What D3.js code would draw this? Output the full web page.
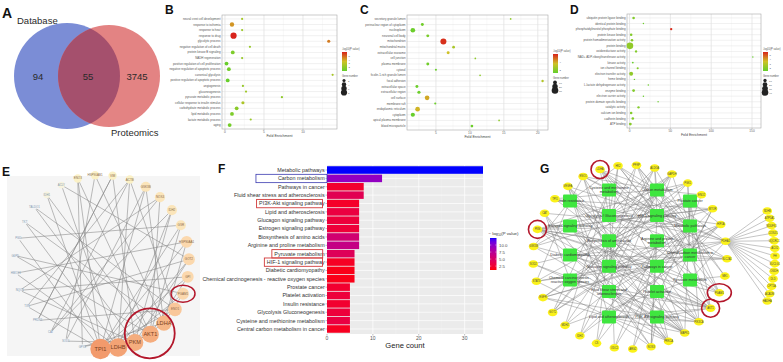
<!DOCTYPE html>
<html><head><meta charset="utf-8">
<script src="https://cdn.jsdelivr.net/npm/d3@7/dist/d3.min.js"></script>
<style>
html,body{margin:0;padding:0;background:#fff;}
svg{display:block;font-family:"Liberation Sans",Arial,Helvetica,sans-serif;}
</style></head>
<body>
<svg id="chart" width="783" height="362"></svg>
<script>
// ================= DATA =================
// Panel A (Venn)
const vennNames = ["Database", "Proteomics"];
const vennCounts = [94, 55, 3745]; // database only, shared, proteomics only

// Panel B (GO BP)
const bTerms = ["neural crest cell development","response to ischemia","response to heat","response to drug","glycolytic process","negative regulation of cell death","protein kinase B signaling","NADH regeneration","positive regulation of cell proliferation","negative regulation of apoptotic process","canonical glycolysis","positive regulation of apoptotic process","angiogenesis","gluconeogenesis","pyruvate metabolic process","cellular response to insulin stimulus","carbohydrate metabolic process","lipid metabolic process","lactate metabolic process","aging"];
const bFold  = [2.2,0.9,2.2,1.1,13.3,3.2,1.0,2.2,0.2,0.5,13.8,0.35,2.3,2.7,7.3,2.3,1.5,0.9,3.3,0.6];
const bLogP  = [2.5,4.2,2.3,6.0,4.6,2.2,1.6,2.2,1.1,1.3,2.6,1.1,2.2,2.4,2.0,2.7,1.9,1.6,2.2,1.4];
const bCount = [1,4,1,8,2,1,3,1,3,3,1,3,1,1,1,2,3,3,1,3];

// Panel C (GO CC)
const cTerms = ["secretory granule lumen","perinuclear region of cytoplasm","nucleoplasm","neuronal cell body","mitochondrion","mitochondrial matrix","extracellular exosome","cell junction","plasma membrane","cytosol","ficolin-1-rich granule lumen","focal adhesion","extracellular space","extracellular region","cell surface","membrane raft","endoplasmic reticulum","cytoplasm","apical plasma membrane","blood microparticle"];
const cFold  = [16.0,3.0,1.6,3.8,6.1,7.6,6.8,10.8,3.8,5.0,11.5,20.7,2.2,2.5,3.7,4.9,2.3,1.6,14.3,10.3];
const cLogP  = [2.2,1.6,1.5,1.8,5.8,2.8,3.6,2.2,1.6,1.4,2.2,3.0,1.5,1.5,4.0,1.5,3.8,1.4,2.2,1.5];
const cCount = [2,6,15,6,25,5,6,2,6,3,2,4,6,7,15,3,15,12,2,5];

// Panel D (GO MF)
const dTerms = ["ubiquitin protein ligase binding","identical protein binding","phosphatidylinositol phosphate binding","protein kinase binding","protein homodimerization activity","protein binding","oxidoreductase activity","NAD+ ADP-ribosyltransferase activity","kinase activity","ion channel binding","electron transfer activity","heme binding","L-lactate dehydrogenase activity","enzyme binding","electron carrier activity","protein domain specific binding","catalytic activity","calcium ion binding","cadherin binding","ATP binding"];
const dFold  = [5,17,51,2,3,0.5,8,151,4,10,2,6,23,5,17,35,11,2,4,1];
const dLogP  = [2.0,1.6,5.5,2.0,2.1,2.3,2.0,1.5,1.5,2.0,2.3,1.5,1.6,2.0,1.5,1.5,2.0,2.0,2.0,2.1];
const dCount = [6,2,5,6,6,40,5,1,3,4,14,2,2,7,2,1,5,6,6,7];

// Panel F (KEGG bar chart)
const fTerms = ["Metabolic pathways","Carbon metabolism","Pathways in cancer","Fluid shear stress and atherosclerosis","PI3K-Akt signaling pathway","Lipid and atherosclerosis","Glucagon signaling pathway","Estrogen signaling pathway","Biosynthesis of amino acids","Arginine and proline metabolism","Pyruvate metabolism","HIF-1 signaling pathway","Diabetic cardiomyopathy","Chemical carcinogenesis - reactive oxygen species","Prostate cancer","Platelet activation","Insulin resistance","Glycolysis  Gluconeogenesis","Cysteine and methionine metabolism","Central carbon metabolism in cancer"];
const fCount = [34,12,8,8,7,7,7,7,7,7,6,6,6,6,5,5,5,5,5,5];
const fLogP  = [12.5,9.6,2.4,4.1,2.2,3.2,3.0,2.9,5.6,6.6,4.4,2.0,1.6,1.6,2.5,3.0,2.5,3.0,3.3,1.9];
const fLegendTicks = [2.5,5.0,7.5,10.0];
const fBoxTerms = ["Carbon metabolism","PI3K-Akt signaling pathway","Pyruvate metabolism","HIF-1 signaling pathway"];
const fBoxKinds = ["blue","red","red","red"];

// Panel E (PPI network, circular)
const eGenes  = ["GPX1","SOD1","CAT","PRDX1","TXN","NQO1","HMOX1","G6PD","PGD","TKT","TALDO1","IDH1","ACLY","ENO3","HSP90AB1","VIM","ACTB","GSK3B","NOX4","IDH2","GSR","HSP90AA1","GOT2","GPI","PGAM1","ENO1","LDHA","AKT1","PKM","LDHB","TPI1"];
const eDegree = [1,1,1,1,1,1,1,1,1,1,1,2,2,3,3,3,3,4,4,4,4,5,5,5,5,6,7,8,8,9,10];
const eEdges  = [[0,27],[0,26],[1,28],[1,17],[2,16],[2,19],[3,25],[3,15],[4,30],[4,22],[5,23],[5,28],[6,21],[6,29],[7,24],[7,27],[8,20],[8,30],[9,26],[9,29],[10,25],[10,28],[11,27],[11,30],[12,22],[12,29],[13,27],[13,30],[14,26],[14,1],[15,28],[15,3],[16,29],[16,25],[17,30],[17,26],[18,27],[18,2],[19,28],[19,29],[20,30],[20,27],[21,26],[22,28],[23,27],[23,30],[24,29],[24,26],[25,30],[26,28],[27,29],[13,0],[16,4],[18,5],[21,30],[22,29]];
const eCircledGroup = ["LDHA","AKT1","PKM"];
const eCircledSingle = ["PGAM1"];

// Panel G (pathway-gene network)
const gSlotOrder = ["Insulin resistance","Estrogen signaling pathway","Diabetic cardiomyopathy","Chemical carcinogenesis - reactive oxygen species","Cysteine and methionine metabolism","Glycolysis  Gluconeogenesis","Biosynthesis of amino acids","Glucagon signaling pathway","Fluid shear stress and atherosclerosis","Lipid and atherosclerosis","Carbon metabolism","HIF-1 signaling pathway","Arginine and proline metabolism","Pathways in cancer","Platelet activation","PI3K-Akt signaling pathway","Prostate cancer","Metabolic pathways","Central carbon metabolism in cancer","Pyruvate metabolism"];
const gGenes = ["LDHA","HK2","PFKP","ALDOA","GAPDH","PGK1","ENO2","MTOR","HIF1A","PDHA1","SLC2A1","ME1","PGAM1","AKT1","PIK3CA","MAPK1","PRKCA","NOS3","ARG2","ODC1","CS","IDH2","MDH2","GOT2","EGFR","STAT3","SOD2","GSK3B","PKM","CAT","TPI1","VEGFA","ENO1"];
const gGeneLinks = [[0,1,2,11,17,19,10],[0,1,11,17,6,16,19],[0,1,11,17,19,6],[0,1,17,8,6,11],[0,1,17,8,11,6,12],[0,1,17,8,11,19],[0,1,17,8,11],[2,4,11,16,12,7,19],[2,11,3,5,13,19,14],[0,1,10,12,6,19,11,17],[11,16,12,6,19],[0,10,1],[0,1,17,8,6,11],[2,4,7,5,14,15,16,11,3,12,13,6,19],[2,4,7,5,14,15,16,11,3],[2,4,7,5,13,14,15,16,6,12,3],[4,15,3,7,5,12,13,6],[3,5,9,11,7,4],[9,0],[9,18,0],[0,1,8],[0,1,8,19],[0,1,10,18],[0,1,9,8,18],[2,4,11,14,19,5],[2,11,16,5,19],[13,3,12],[4,16,7,6,14],[0,1,2,8,10,11,17,19,6,12],[0,3,13,12],[0,1,8,17],[2,4,11,3,5,15],[0,1,17,8,11,6,16]];
const gHub = "PDHA1";
const gSideGenes = ["SDHB","ATP5A1","NDUFS1","COX4I1","UQCRC1","ACO2","FH","SUCLG1","OGDH","DLD","CPT1A","ACADM","HADHA"];
const gCircled = ["LDHA","PGAM1","AKT1","PKM"];

// ================= DRAWING =================
const svg = d3.select("#chart");
const defs = svg.append("defs");
const RED_RING = "#b3172b";

function letter(t, x, y, s) {
  svg.append("text").attr("x", x).attr("y", y).attr("font-size", s)
    .attr("font-weight", "bold").attr("fill", "#111").text(t);
}

// ---------- Panel A ----------
(function () {
  const g = svg.append("g");
  const cy = 76;
  const cx = d3.scaleLinear().domain([0, 1]).range([67, 109]);
  const rr = [53, 51];
  defs.append("clipPath").attr("id", "clipBlue").append("circle")
    .attr("cx", cx(0)).attr("cy", cy).attr("r", rr[0]);
  g.append("circle").attr("cx", cx(0)).attr("cy", cy).attr("r", rr[0]).attr("fill", "#7b8dd6");
  g.append("circle").attr("cx", cx(1)).attr("cy", cy).attr("r", rr[1]).attr("fill", "#e38383");
  g.append("circle").attr("cx", cx(1)).attr("cy", cy).attr("r", rr[1]).attr("fill", "#a5506d")
    .attr("clip-path", "url(#clipBlue)");
  const numX = [38, 88, 137];
  vennCounts.forEach((v, i) => g.append("text").attr("x", numX[i]).attr("y", cy + 3.5)
    .attr("text-anchor", "middle").attr("font-size", 9.5).attr("fill", "#2a2a2a").text(v));
  g.append("text").attr("x", 17).attr("y", 24).attr("font-size", 9.5).attr("fill", "#2a2a2a").text(vennNames[0]);
  g.append("text").attr("x", 111).attr("y", 136).attr("font-size", 9.5).attr("fill", "#2a2a2a").text(vennNames[1]);
})();

// ---------- Dot plots B, C, D ----------
function dotPlot(p) {
  const g = svg.append("g");
  const x = d3.scaleLinear().domain(p.xDomain).range([p.x0, p.x1]);
  const y = d3.scalePoint().domain(p.terms).range([p.y0, p.y1]).padding(0.7);
  g.append("rect").attr("x", p.x0).attr("y", p.y0).attr("width", p.x1 - p.x0).attr("height", p.y1 - p.y0).attr("fill", "#fff");
  p.minor.forEach(v => g.append("line").attr("x1", x(v)).attr("x2", x(v)).attr("y1", p.y0).attr("y2", p.y1)
    .attr("stroke", "#efefef").attr("stroke-width", 0.4));
  p.ticks.forEach(v => g.append("line").attr("x1", x(v)).attr("x2", x(v)).attr("y1", p.y0).attr("y2", p.y1)
    .attr("stroke", "#d9d9d9").attr("stroke-width", 0.6));
  p.terms.forEach(t => g.append("line").attr("x1", p.x0).attr("x2", p.x1).attr("y1", y(t)).attr("y2", y(t))
    .attr("stroke", "#e3e3e3").attr("stroke-width", 0.5));
  g.append("rect").attr("x", p.x0).attr("y", p.y0).attr("width", p.x1 - p.x0).attr("height", p.y1 - p.y0)
    .attr("fill", "none").attr("stroke", "#a8a8a8").attr("stroke-width", 0.6);
  const col = d3.scaleLinear().domain(p.cDomain).range(["#63cf2b", "#cfc126", "#d8231b"]).clamp(true);
  const r = d3.scaleSqrt().domain([0, p.sizeMax]).range([0, p.rMax]);
  p.terms.forEach((t, i) => {
    g.append("circle").attr("cx", x(p.fold[i])).attr("cy", y(t)).attr("r", Math.max(0.7, r(p.count[i])))
      .attr("fill", col(p.logp[i]));
    g.append("text").attr("x", p.x0 - 1.5).attr("y", y(t) + 1).attr("text-anchor", "end")
      .attr("font-size", 2.9).attr("fill", "#555").text(t);
  });
  p.ticks.forEach(v => {
    g.append("line").attr("x1", x(v)).attr("x2", x(v)).attr("y1", p.y1).attr("y2", p.y1 + 1.2)
      .attr("stroke", "#888").attr("stroke-width", 0.4);
    g.append("text").attr("x", x(v)).attr("y", p.y1 + 4.3).attr("text-anchor", "middle")
      .attr("font-size", 3.2).attr("fill", "#666").text(v);
  });
  g.append("text").attr("x", (p.x0 + p.x1) / 2).attr("y", p.y1 + 7.6).attr("text-anchor", "middle")
    .attr("font-size", 3.6).attr("fill", "#444").text("Fold Enrichment");
  // legend
  const lx = p.legX, ly = p.legY;
  g.append("text").attr("x", lx).attr("y", ly).attr("font-size", 2.6).attr("fill", "#555").text("-log10(P value)");
  const gid = "grad" + p.id;
  const lg = defs.append("linearGradient").attr("id", gid).attr("x1", 0).attr("x2", 0).attr("y1", 1).attr("y2", 0);
  d3.range(0, 1.001, 0.1).forEach(f => {
    const v = p.cDomain[0] + f * (p.cDomain[2] - p.cDomain[0]);
    lg.append("stop").attr("offset", f).attr("stop-color", col(v));
  });
  g.append("rect").attr("x", lx).attr("y", ly + 2).attr("width", 5).attr("height", 19).attr("fill", `url(#${gid})`);
  const ls = d3.scaleLinear().domain([p.cDomain[0], p.cDomain[2]]).range([ly + 21, ly + 2]);
  p.cTicks.forEach(v => g.append("text").attr("x", lx + 6.5).attr("y", ls(v) + 1).attr("font-size", 2.5)
    .attr("fill", "#555").text(v));
  g.append("text").attr("x", lx).attr("y", ly + 27).attr("font-size", 2.6).attr("fill", "#555").text("Gene number");
  p.sizeTicks.forEach((s, i) => {
    g.append("circle").attr("cx", lx + 2).attr("cy", ly + 30.5 + i * 4).attr("r", r(s)).attr("fill", "#222");
    g.append("text").attr("x", lx + 6).attr("y", ly + 31.5 + i * 4).attr("font-size", 2.5).attr("fill", "#555").text(s);
  });
}

dotPlot({id: "B", terms: bTerms, fold: bFold, logp: bLogP, count: bCount,
  x0: 222, x1: 337, y0: 15, y1: 129, xDomain: [-0.38, 14.36], ticks: [0, 5, 10], minor: [2.5, 7.5, 12.5],
  cDomain: [1, 3.5, 6], cTicks: [2, 3, 4, 5], sizeMax: 8, rMax: 3.1, sizeTicks: [2, 4, 6, 8], legX: 342, legY: 50});
dotPlot({id: "C", terms: cTerms, fold: cFold, logp: cLogP, count: cCount,
  x0: 407, x1: 548, y0: 15, y1: 130, xDomain: [0.74, 21.5], ticks: [5, 10, 15, 20], minor: [2.5, 7.5, 12.5, 17.5],
  cDomain: [1.3, 3.6, 6], cTicks: [2, 4], sizeMax: 30, rMax: 3.3, sizeTicks: [10, 20, 30], legX: 553, legY: 52});
dotPlot({id: "D", terms: dTerms, fold: dFold, logp: dLogP, count: dCount,
  x0: 627, x1: 761, y0: 14, y1: 128, xDomain: [-3.1, 161], ticks: [0, 50, 100, 150], minor: [25, 75, 125],
  cDomain: [1.4, 3.5, 5.6], cTicks: [2, 3, 4, 5], sizeMax: 40, rMax: 3.3, sizeTicks: [10, 20, 30, 40], legX: 763, legY: 50});

// ---------- Panel F ----------
(function () {
  const g = svg.append("g");
  const x0 = 327, x1 = 483, y0 = 165, y1 = 334;
  const x = d3.scaleLinear().domain([0, 34]).range([x0, x1]);
  const y = d3.scaleBand().domain(fTerms).range([y0, y1]).paddingInner(0.1).paddingOuter(0.15);
  const col = d3.scaleLinear().domain([1.1, 12.5]).range(["#ff0000", "#0000ff"]).interpolate(d3.interpolateLab);
  g.append("rect").attr("x", x0).attr("y", y0).attr("width", x1 - x0).attr("height", y1 - y0).attr("fill", "#ebebeb");
  [5, 15, 25].forEach(v => g.append("line").attr("x1", x(v)).attr("x2", x(v)).attr("y1", y0).attr("y2", y1)
    .attr("stroke", "#f6f6f6").attr("stroke-width", 0.35));
  [0, 10, 20, 30].forEach(v => g.append("line").attr("x1", x(v)).attr("x2", x(v)).attr("y1", y0).attr("y2", y1)
    .attr("stroke", "#fff").attr("stroke-width", 0.7));
  fTerms.forEach(t => g.append("line").attr("x1", x0).attr("x2", x1)
    .attr("y1", y(t) + y.bandwidth() / 2).attr("y2", y(t) + y.bandwidth() / 2).attr("stroke", "#fff").attr("stroke-width", 0.7));
  const labels = {};
  fTerms.forEach((t, i) => {
    g.append("rect").attr("x", x(0)).attr("y", y(t)).attr("width", x(fCount[i]) - x(0)).attr("height", y.bandwidth())
      .attr("fill", col(fLogP[i]));
    g.append("line").attr("x1", x0 - 1.5).attr("x2", x0).attr("y1", y(t) + y.bandwidth() / 2).attr("y2", y(t) + y.bandwidth() / 2)
      .attr("stroke", "#555").attr("stroke-width", 0.4);
    labels[t] = g.append("text").attr("x", x0 - 2.3).attr("y", y(t) + y.bandwidth() / 2 + 1.9)
      .attr("text-anchor", "end").attr("font-size", 5.4).attr("fill", "#333").text(t);
  });
  [0, 10, 20, 30].forEach(v => {
    g.append("line").attr("x1", x(v)).attr("x2", x(v)).attr("y1", y1).attr("y2", y1 + 1.5).attr("stroke", "#555").attr("stroke-width", 0.4);
    g.append("text").attr("x", x(v)).attr("y", y1 + 6.3).attr("text-anchor", "middle").attr("font-size", 5)
      .attr("fill", "#555").text(v);
  });
  g.append("text").attr("x", (x0 + x1) / 2).attr("y", 347.5).attr("text-anchor", "middle").attr("font-size", 7.6)
    .attr("fill", "#222").text("Gene count");
  // legend
  const t = g.append("text").attr("x", 488.5).attr("y", 235).attr("font-size", 4.3).attr("fill", "#333");
  t.append("tspan").text("\u2212 log");
  t.append("tspan").attr("font-size", 3).attr("dy", 1).text("10");
  t.append("tspan").attr("dy", -1).text("(P value)");
  const lg = defs.append("linearGradient").attr("id", "gradF").attr("x1", 0).attr("x2", 0).attr("y1", 1).attr("y2", 0);
  d3.range(0, 1.001, 0.05).forEach(f => lg.append("stop").attr("offset", f).attr("stop-color", col(1.1 + f * 11.4)));
  const ly = d3.scaleLinear().domain([1.1, 12.5]).range([270, 238]);
  g.append("rect").attr("x", 490).attr("y", 238).attr("width", 6.5).attr("height", 32).attr("fill", "url(#gradF)");
  fLegendTicks.forEach(v => {
    g.append("line").attr("x1", 490).attr("x2", 491.3).attr("y1", ly(v)).attr("y2", ly(v)).attr("stroke", "#fff").attr("stroke-width", 0.4);
    g.append("line").attr("x1", 495.2).attr("x2", 496.5).attr("y1", ly(v)).attr("y2", ly(v)).attr("stroke", "#fff").attr("stroke-width", 0.4);
    g.append("text").attr("x", 499).attr("y", ly(v) + 1.5).attr("font-size", 4.3).attr("fill", "#444").text(v.toFixed(1));
  });
  // annotation boxes
  fBoxTerms.forEach((term, i) => {
    const bb = labels[term].node().getBBox();
    const blue = fBoxKinds[i] === "blue";
    const left = blue ? bb.x - 22 : bb.x - 2.5;
    const right = blue ? x0 : bb.x + bb.width - 2.5;
    g.append("rect").attr("x", left).attr("y", y(term) - 0.3).attr("width", right - left).attr("height", y.bandwidth() + 0.8)
      .attr("fill", "none").attr("stroke", blue ? "#3b3bb0" : "#d23a3a").attr("stroke-width", blue ? 0.8 : 0.9);
  });
})();

// ---------- Panel E ----------
(function () {
  const g = svg.append("g");
  g.append("rect").attr("x", 7).attr("y", 176).attr("width", 193).attr("height", 180).attr("fill", "#f5f5f5");
  const cx = 102, cy = 262, R = 87;
  const ang = d3.scaleLinear().domain([0, eGenes.length - 1]).range([103, 451]);
  const pos = eGenes.map((n, i) => {
    const a = ang(i) * Math.PI / 180;
    return [cx + R * Math.cos(a), cy + R * Math.sin(a)];
  });
  const rad = d3.scaleLinear().domain([1, 10]).range([2.5, 10.2]);
  const fill = d3.scaleLinear().domain([1, 3, 5, 7, 10]).range(["#f3f5f6", "#fbf1c6", "#fbd8ad", "#f6b687", "#f29a6c"]);
  eEdges.forEach(([a, b]) => g.append("line").attr("x1", pos[a][0]).attr("y1", pos[a][1]).attr("x2", pos[b][0]).attr("y2", pos[b][1])
    .attr("stroke", "#858585").attr("stroke-width", 0.55));
  eGenes.forEach((n, i) => {
    const d = eDegree[i];
    g.append("circle").attr("cx", pos[i][0]).attr("cy", pos[i][1]).attr("r", rad(d)).attr("fill", fill(d));
    g.append("text").attr("x", pos[i][0]).attr("y", pos[i][1] + (d >= 7 ? 1.9 : 1))
      .attr("text-anchor", "middle").attr("font-size", d >= 7 ? 5.6 : (d >= 3 ? 3 : 2.8))
      .attr("fill", d <= 2 ? "#7f95ae" : (d >= 7 ? "#7a3f1e" : "#8a6a4a")).text(n);
  });
  const grp = eCircledGroup.map(n => pos[eGenes.indexOf(n)]);
  g.append("circle").attr("cx", d3.mean(grp, p => p[0])).attr("cy", d3.mean(grp, p => p[1])).attr("r", 25)
    .attr("fill", "none").attr("stroke", RED_RING).attr("stroke-width", 1.8);
  eCircledSingle.forEach(n => {
    const p = pos[eGenes.indexOf(n)];
    g.append("ellipse").attr("cx", p[0]).attr("cy", p[1]).attr("rx", 12).attr("ry", 8.5)
      .attr("fill", "none").attr("stroke", RED_RING).attr("stroke-width", 1.5);
  });
})();

// ---------- Panel G ----------
(function () {
  const g = svg.append("g");
  const colXs = [570, 609, 657, 690];
  const rowY = d3.scaleLinear().domain([0, 5]).range([190, 317]);
  const shortRows = [0.43, 1.42, 2.56, 3.54];
  const colSizes = [4, 6, 6, 4];
  const slotPos = [];
  colSizes.forEach((n, c) => d3.range(n).forEach(r => slotPos.push([colXs[c], n === 4 ? rowY(shortRows[r]) : rowY(r)])));
  const pathPos = {};
  gSlotOrder.forEach((t, i) => pathPos[t] = slotPos[i]);
  const ringA = d3.scaleLinear().domain([0, gGenes.length]).range([-108, 252]);
  const gpos = gGenes.map((n, i) => {
    const a = ringA(i) * Math.PI / 180;
    return [630 + 97 * Math.cos(a), 257 + 92 * Math.sin(a)];
  });
  const sideA = d3.scaleLinear().domain([0, gSideGenes.length - 1]).range([-19.5, 19.5]);
  const spos = gSideGenes.map((n, i) => {
    const a = sideA(i) * Math.PI / 180;
    return [640 + 135 * Math.cos(a), 256 + 135 * Math.sin(a)];
  });
  const edge = (p, q) => g.append("line").attr("x1", p[0]).attr("y1", p[1]).attr("x2", q[0]).attr("y2", q[1])
    .attr("stroke", "#7d7d7d").attr("stroke-width", 0.45);
  gGenes.forEach((n, i) => gGeneLinks[i].forEach(k => edge(gpos[i], pathPos[fTerms[k]])));
  const hub = gpos[gGenes.indexOf(gHub)];
  spos.forEach(p => edge(hub, p));
  // pathway squares
  gSlotOrder.forEach(t => {
    const p = pathPos[t];
    g.append("rect").attr("x", p[0] - 7).attr("y", p[1] - 6.5).attr("width", 14).attr("height", 13).attr("rx", 1)
      .attr("fill", "#3fe63f");
  });
  gSlotOrder.forEach(t => {
    const p = pathPos[t];
    const name = t === "Glycolysis  Gluconeogenesis" ? "Glycolysis / Gluconeogenesis" : t;
    const words = name.split(" ");
    const lines = [];
    let cur = "";
    if (name.length > 28) {
      words.forEach(w => {
        if ((cur + " " + w).trim().length > 28) { lines.push(cur.trim()); cur = w; } else cur = (cur + " " + w).trim();
      });
      lines.push(cur);
    } else lines.push(name);
    lines.forEach((ln, j) => g.append("text").attr("x", p[0]).attr("y", p[1] + 1.3 + (j - (lines.length - 1) / 2) * 4)
      .attr("text-anchor", "middle").attr("font-size", 3.6).attr("fill", "#333").text(ln));
  });
  // gene nodes
  const node = (p, n) => {
    g.append("ellipse").attr("cx", p[0]).attr("cy", p[1]).attr("rx", 4.8).attr("ry", 3.8).attr("fill", "#fbf21a");
    g.append("text").attr("x", p[0]).attr("y", p[1] + 0.9).attr("text-anchor", "middle").attr("font-size", 2.6)
      .attr("fill", "#444").text(n);
  };
  gGenes.forEach((n, i) => node(gpos[i], n));
  gSideGenes.forEach((n, i) => node(spos[i], n));
  gCircled.forEach(n => {
    const p = gpos[gGenes.indexOf(n)];
    const wide = n === "PGAM1";
    g.append("ellipse").attr("cx", p[0]).attr("cy", p[1]).attr("rx", wide ? 12 : 9).attr("ry", 9)
      .attr("fill", "none").attr("stroke", RED_RING).attr("stroke-width", 1.6);
  });
})();

// panel letters
letter("A", 2, 18, 14);
letter("B", 165, 14, 12);
letter("C", 360, 14, 12);
letter("D", 570, 14, 12);
letter("E", 2, 176, 12);
letter("F", 218, 173, 12);
letter("G", 540, 173, 12);
</script>
</body></html>
